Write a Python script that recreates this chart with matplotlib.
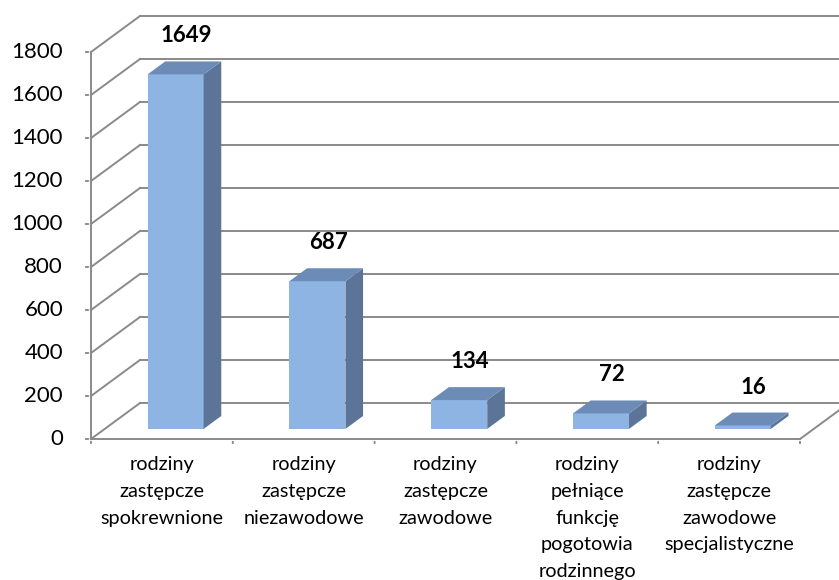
import matplotlib.pyplot as plt
from matplotlib.patches import Polygon

plt.rcParams["font.family"] = ["Lato", "DejaVu Sans"]

categories = [
    "rodziny\nzastępcze\nspokrewnione",
    "rodziny\nzastępcze\nniezawodowe",
    "rodziny\nzastępcze\nzawodowe",
    "rodziny\npełniące\nfunkcję\npogotowia\nrodzinnego",
    "rodziny\nzastępcze\nzawodowe\nspecjalistyczne",
]
values = [1649, 687, 134, 72, 16]
yticks = [0, 200, 400, 600, 800, 1000, 1200, 1400, 1600, 1800]

# pseudo-3D geometry (oblique projection in data units)
px_cat = 141.8          # pixels per category
px_val = 387 / 1800     # pixels per value unit
dx = 49 / px_cat        # wall depth, x part
dy = 36 / px_val        # wall depth, y part
d0, d1 = 0.28, 0.64     # bar depth range (fraction of wall depth)
bw = 0.395              # bar width

grid_c = "#8a8a8a"
front_c = "#8DB4E3"
top_c = "#6C8BB6"
side_c = "#5B7497"

fig = plt.figure(figsize=(8.39, 5.8), dpi=100)
ax = fig.add_axes([0, 0, 1, 1])
ax.axis("off")
ax.set_xlim(-0.5 - 91 / px_cat, -0.5 + (839 - 91) / px_cat)
ax.set_ylim(-(580 - 439) / px_val, 1800 + 52 / px_val)

n = len(values)
left, right = -0.5, n - 0.5

# back wall gridlines + side wall diagonals
for t in yticks:
    ax.plot([left + dx, right + dx], [t + dy, t + dy], color=grid_c, lw=1.4, zorder=1)
    ax.plot([left, left + dx], [t, t + dy], color=grid_c, lw=1.4, zorder=1)
    # tick mark on value axis
    ax.annotate("", xy=(left, t), xytext=(-8, 0), textcoords="offset pixels",
                arrowprops=dict(arrowstyle="-", color=grid_c, lw=1.4))
    ax.annotate(str(t), xy=(left, t), xytext=(-28, 0), textcoords="offset pixels",
                ha="right", va="center", fontsize=16, color="black")

# floor edges and front value axis
ax.plot([left, right], [0, 0], color=grid_c, lw=1.4, zorder=2)
ax.plot([right, right + dx], [0, dy], color=grid_c, lw=1.4, zorder=2)
ax.plot([left, left], [0, 1800], color=grid_c, lw=1.4, zorder=2)

# category ticks and labels
for i in range(n + 1):
    ax.annotate("", xy=(i - 0.5, 0), xytext=(0, -7), textcoords="offset pixels",
                arrowprops=dict(arrowstyle="-", color=grid_c, lw=1.4))
for i, lab in enumerate(categories):
    ax.annotate(lab, xy=(i, 0), xytext=(0, -17), textcoords="offset pixels",
                ha="center", va="top", fontsize=14.3, linespacing=1.7)

# bars
for i, v in enumerate(values):
    xl = i - bw / 2 + d0 * dx
    xr = i + bw / 2 + d0 * dx
    ox, oy = (d1 - d0) * dx, (d1 - d0) * dy
    yb = d0 * dy
    ax.bar(xl + bw / 2, v, width=bw, bottom=yb, color=front_c, zorder=3)
    ax.add_patch(Polygon([(xr, yb), (xr + ox, yb + oy), (xr + ox, yb + oy + v), (xr, yb + v)],
                         closed=True, facecolor=side_c, edgecolor="none", zorder=3))
    ax.add_patch(Polygon([(xl, yb + v), (xr, yb + v), (xr + ox, yb + oy + v), (xl + ox, yb + oy + v)],
                         closed=True, facecolor=top_c, edgecolor="none", zorder=4))
    xm = i + ((d0 + d1) / 2) * dx
    ax.annotate(str(v), xy=(xm, v + (d0 + d1) / 2 * dy), xytext=(2, 32),
                textcoords="offset pixels", ha="center", va="center",
                fontsize=16, fontweight="bold", zorder=5)

fig.savefig("out.png", dpi=100)
